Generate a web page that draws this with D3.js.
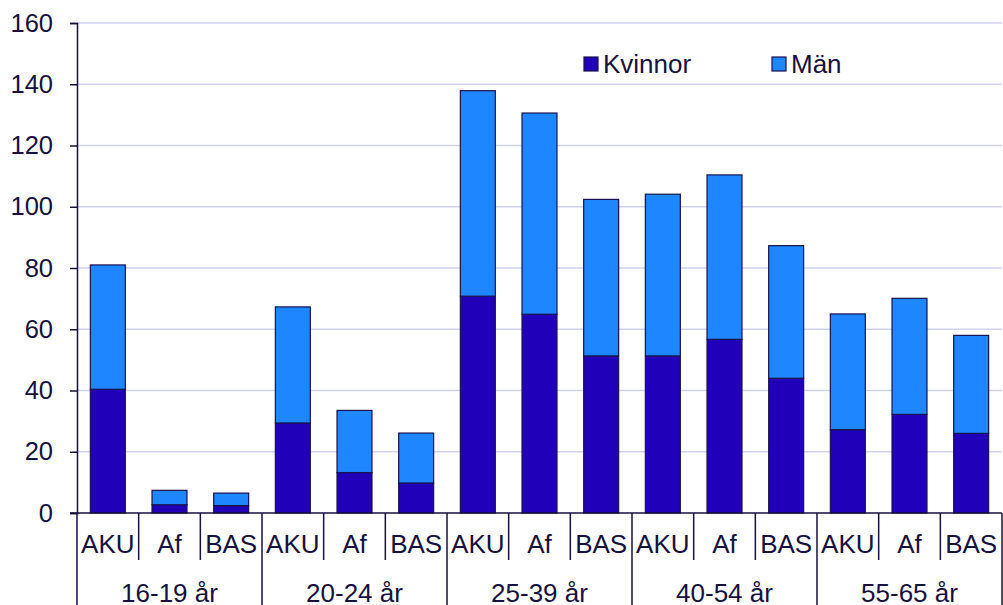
<!DOCTYPE html>
<html>
<head>
<meta charset="utf-8">
<script src="https://cdn.jsdelivr.net/npm/d3@7"></script>
<style>
  html, body { margin: 0; padding: 0; background: #ffffff; }
  svg { display: block; font-family: "Liberation Sans", Arial, sans-serif; }
</style>
</head>
<body>
<svg id="chart" width="1003" height="605"></svg>
<script>
// ---- data ----
const groups = ["16-19 år", "20-24 år", "25-39 år", "40-54 år", "55-65 år"];
const sources = ["AKU", "Af", "BAS"];
const seriesNames = ["Kvinnor", "Män"];
const kvinnor = [40.4, 2.7, 2.4, 29.4, 13.2, 9.8, 70.8, 64.9, 51.3, 51.3, 56.7, 44.0, 27.2, 32.2, 26.0];
const man     = [40.6, 4.7, 4.1, 37.9, 20.3, 16.3, 67.1, 65.7, 51.1, 52.8, 53.7, 43.3, 37.8, 37.9, 32.0];
const yTicks = [0, 20, 40, 60, 80, 100, 120, 140, 160];

(function () {
// ---- layout ----
const textColor = "#16113f";
const axisColor = "#16113f";
const gridColor = "#d2d2ef";
const colors = ["#2000b8", "#1e86ff"];
const fontSize = 26;
const tickFontSize = 25.5;

const mLeft = 77, mRight = 1002, mTop = 23, mBottom = 513;
const svg = d3.select("#chart");

const rows = [];
groups.forEach((g, gi) => sources.forEach((s, si) => {
  const i = gi * sources.length + si;
  rows.push({ key: g + "|" + s, group: g, source: s, Kvinnor: kvinnor[i], "Män": man[i] });
}));

const x = d3.scaleBand().domain(rows.map(d => d.key)).range([mLeft, mRight])
  .paddingInner(0.433).paddingOuter(0.2165);
const y = d3.scaleLinear().domain([0, 160]).range([mBottom, mTop]);

// gridlines
svg.append("g").selectAll("line").data(yTicks.filter(t => t > 0)).join("line")
  .attr("x1", mLeft).attr("x2", mRight)
  .attr("y1", d => y(d)).attr("y2", d => y(d))
  .attr("stroke", gridColor).attr("stroke-width", 1.5);

// y axis
const yAxis = d3.axisLeft(y).tickValues(yTicks).tickSize(7).tickPadding(17);
const yg = svg.append("g").attr("transform", `translate(${mLeft},0)`).call(yAxis);
yg.select(".domain").attr("stroke", axisColor).attr("stroke-width", 1.5);
yg.selectAll(".tick line").attr("stroke", axisColor).attr("stroke-width", 1.5);
yg.selectAll(".tick text").attr("fill", textColor)
  .style("font-size", tickFontSize + "px").style("font-family", "Liberation Sans, Arial, sans-serif");

// stacked bars
const stacked = d3.stack().keys(seriesNames)(rows);
svg.append("g").selectAll("g").data(stacked).join("g")
  .attr("fill", (d, i) => colors[i])
  .selectAll("rect").data(d => d).join("rect")
  .attr("x", d => x(d.data.key))
  .attr("width", x.bandwidth())
  .attr("y", d => y(d[1]))
  .attr("height", d => y(d[0]) - y(d[1]))
  .attr("stroke", "#1a1250").attr("stroke-width", 1.2);

// x axis line (zero)
svg.append("line").attr("x1", mLeft - 7).attr("x2", mRight)
  .attr("y1", mBottom).attr("y2", mBottom)
  .attr("stroke", axisColor).attr("stroke-width", 1.5);

// category boundaries
const step = x.step();
const boundaries = d3.range(rows.length + 1).map(i => mLeft + i * step);
svg.append("g").selectAll("line").data(boundaries.filter((b, i) => i % sources.length !== 0)).join("line")
  .attr("x1", d => d).attr("x2", d => d)
  .attr("y1", mBottom).attr("y2", 560)
  .attr("stroke", axisColor).attr("stroke-width", 1.5);
svg.append("g").selectAll("line").data(boundaries.filter((b, i) => i % sources.length === 0)).join("line")
  .attr("x1", d => d).attr("x2", d => d)
  .attr("y1", mBottom).attr("y2", 605)
  .attr("stroke", axisColor).attr("stroke-width", 1.5);

// sub-category labels
svg.append("g").selectAll("text").data(rows).join("text")
  .attr("x", d => x(d.key) + x.bandwidth() / 2)
  .attr("y", 553)
  .attr("text-anchor", "middle")
  .attr("fill", textColor).style("font-size", fontSize + "px")
  .text(d => d.source);

// group labels
svg.append("g").selectAll("text").data(groups).join("text")
  .attr("x", (g, gi) => (boundaries[gi * 3] + boundaries[gi * 3 + 3]) / 2)
  .attr("y", 602)
  .attr("text-anchor", "middle")
  .attr("fill", textColor).style("font-size", fontSize + "px")
  .text(d => d);

// legend
const legendX = [584, 772];
const lg = svg.append("g").selectAll("g").data(seriesNames).join("g")
  .attr("transform", (d, i) => `translate(${legendX[i]},57)`);
lg.append("rect").attr("width", 14).attr("height", 14)
  .attr("fill", (d, i) => colors[i]).attr("stroke", "#1a1250").attr("stroke-width", 1.2);
lg.append("text").attr("x", 19).attr("y", 15.5)
  .attr("fill", textColor).style("font-size", fontSize + "px")
  .text(d => d);
})();
</script>
</body>
</html>
